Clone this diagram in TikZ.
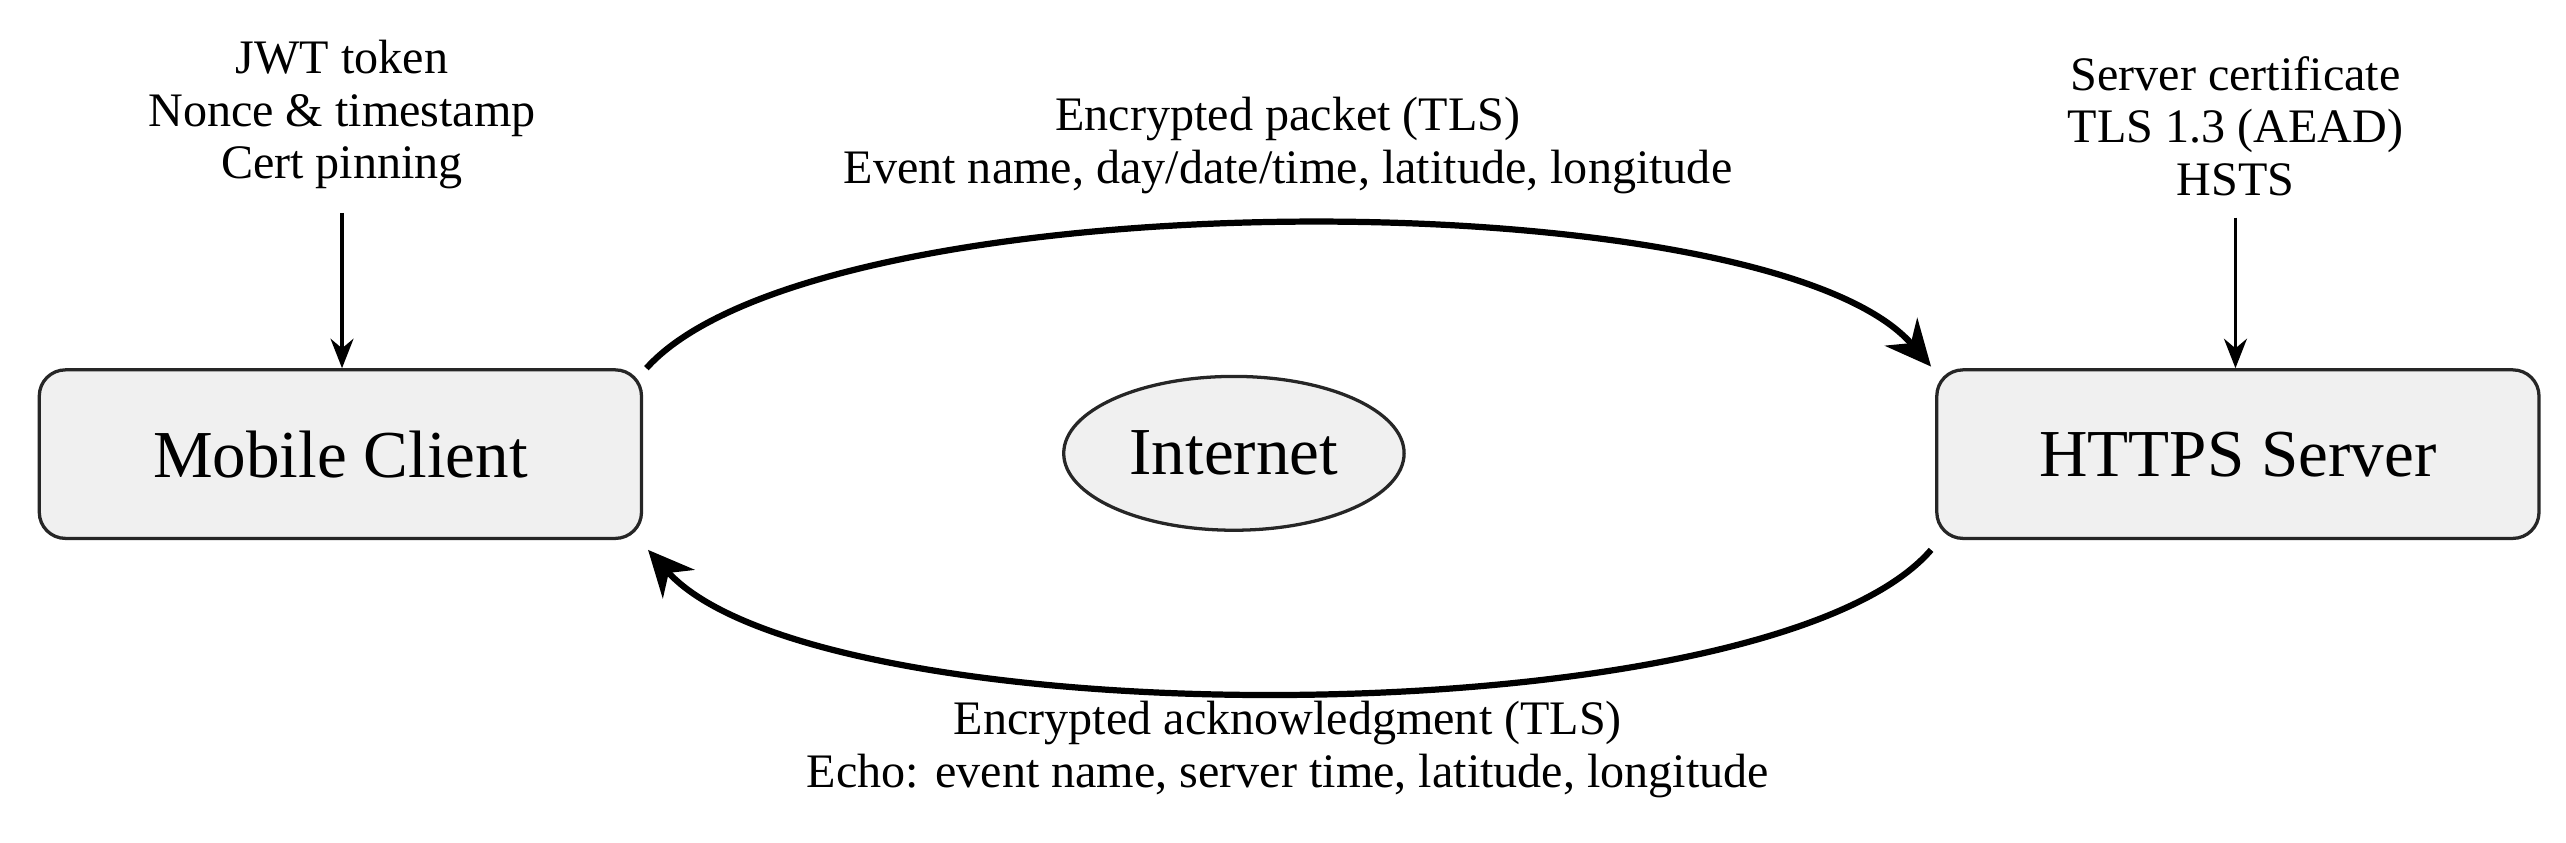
\documentclass[tikz,border=0pt]{standalone}
\usepackage{fontspec}
\setmainfont{Liberation Serif}
\usetikzlibrary{arrows.meta,shapes.geometric}
\begin{document}
\begin{tikzpicture}[x=0.5pt,y=-0.5pt,
  box/.style={draw=black!85,line width=1pt,rounded corners=8pt,fill=black!6,minimum width=184pt,minimum height=51.5pt,font=\fontsize{20.5}{22}\selectfont},
  lbl/.style={align=center,font=\fontsize{14.7}{16}\selectfont},
  flow/.style={line width=1.9pt,-{Stealth[length=14pt,width=13pt]}},
  feed/.style={line width=1.1pt,-{Stealth[length=9pt,width=7pt]}}]
\useasboundingbox (0,0) rectangle (1568,515);
\node[box] (mc) at (208,277.5) {Mobile Client};
\node[box] (hs) at (1367.5,277.5) {HTTPS Server};
\node[draw=black!85,line width=1pt,fill=black!6,ellipse,minimum width=104pt,minimum height=47pt,font=\fontsize{20.5}{22}\selectfont] (net) at (754,277) {Internet};
\node[lbl] (cl) at (209,70) {JWT token\\Nonce \& timestamp\\Cert pinning};
\node[lbl] (sl) at (1366,77) {Server certificate\\TLS 1.3 (AEAD)\\HSTS};
\node[lbl] (tl) at (787,89) {Encrypted packet (TLS)\\Event name, day/date/time, latitude, longitude};
\node[lbl] (bl) at (787,458) {Encrypted acknowledgment (TLS)\\Echo: event name, server time, latitude, longitude};
\draw[feed] (cl.south |- 0,130) -- (mc.north -| cl.south);
\draw[feed] (sl.south |- 0,133) -- (hs.north -| sl.south);
\coordinate (a1) at (395,225);
\coordinate (a2) at (1180,224);
\coordinate (b1) at (1180,336);
\coordinate (b2) at (396,336);
\draw[flow] (a1) .. controls (500,108) and (1080,108) .. (a2);
\draw[flow] (b1) .. controls (1080,452) and (500,452) .. (b2);
\end{tikzpicture}
\end{document}
